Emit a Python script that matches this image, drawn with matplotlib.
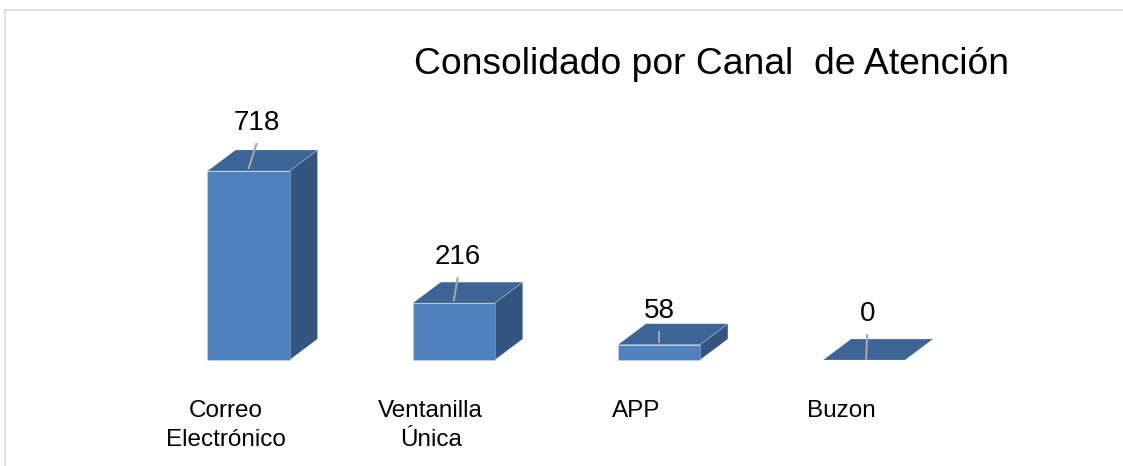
import numpy as np
import matplotlib.pyplot as plt
from matplotlib.patches import Polygon
from matplotlib.lines import Line2D

# datos
categorias = ['Correo\nElectrónico', 'Ventanilla\nÚnica', 'APP', 'Buzon']
valores = [718, 216, 58, 0]
titulo = 'Consolidado por Canal  de Atención'

plt.rcParams['font.family'] = ['Liberation Sans', 'DejaVu Sans']

W, H = 1123, 466
fig = plt.figure(figsize=(W / 100, H / 100), dpi=100)
ax = fig.add_axes([0, 0, 1, 1])

# escala: centro de barra i -> 248.5 + 205.2*i px, y=0 -> fila 360, 718 -> fila 171
px_x = 205.2
px_y = 189 / 718
ax.set_xlim(-248.5 / px_x, (W - 248.5) / px_x)
ax.set_ylim(-(H - 360) / px_y, 360 / px_y)
ax.axis('off')

ancho = 82 / px_x
dx = 28 / px_x
dy = 21 / px_y

c_frente = '#4F81BD'
c_arriba = '#3C6494'
c_lado = '#34557F'
borde = (1, 1, 1, 0.25)

for i, v in enumerate(valores):
    x0 = i - ancho / 2
    x1 = i + ancho / 2
    # lado
    ax.add_patch(Polygon([(x1, 0), (x1 + dx, dy), (x1 + dx, v + dy), (x1, v)],
                         closed=True, fc=c_lado, ec=borde, lw=0.6))
    # frente
    if v > 0:
        ax.add_patch(Polygon([(x0, 0), (x1, 0), (x1, v), (x0, v)],
                             closed=True, fc=c_frente, ec=borde, lw=0.6))
    # arriba
    ax.add_patch(Polygon([(x0, v), (x1, v), (x1 + dx, v + dy), (x0 + dx, v + dy)],
                         closed=True, fc=c_arriba, ec=borde, lw=0.6))

# etiquetas de valor con linea guia
guia = [0.04, 0.02, 0.0, 0.015]
alto_txt = [48, 46, 34, 46]
for i, v in enumerate(valores):
    xb = i + (0 if v > 0 else 0.01)
    yb = v + (2 / px_y if v > 0 else 0)
    xt = i + guia[i]
    yt = v + (alto_txt[i] - 20) / px_y
    ax.plot([xb, xt], [yb, yt], color='#A6A6A6', lw=1.5, solid_capstyle='butt')
    ax.text(i + guia[i], v + alto_txt[i] / px_y, str(v),
            ha='center', va='center', fontsize=20, color='black')

# categorias
for i, c in enumerate(categorias):
    ax.text(i - 23 / px_x, -(400 - 360) / px_y, c, ha='center', va='top',
            fontsize=17.5, linespacing=1.4, color='black')

fig.text(711 / W, 1 - 65 / H, titulo, ha='center', va='center',
         fontsize=26.8, color='black')

# marco
fig.add_artist(Line2D([4.5 / W, 4.5 / W], [0, 1 - 9.5 / H], color='#D9D9D9', lw=1.2))
fig.add_artist(Line2D([4.5 / W, 1], [1 - 9.5 / H, 1 - 9.5 / H], color='#D9D9D9', lw=1.2))

fig.savefig('out.png', dpi=100)
